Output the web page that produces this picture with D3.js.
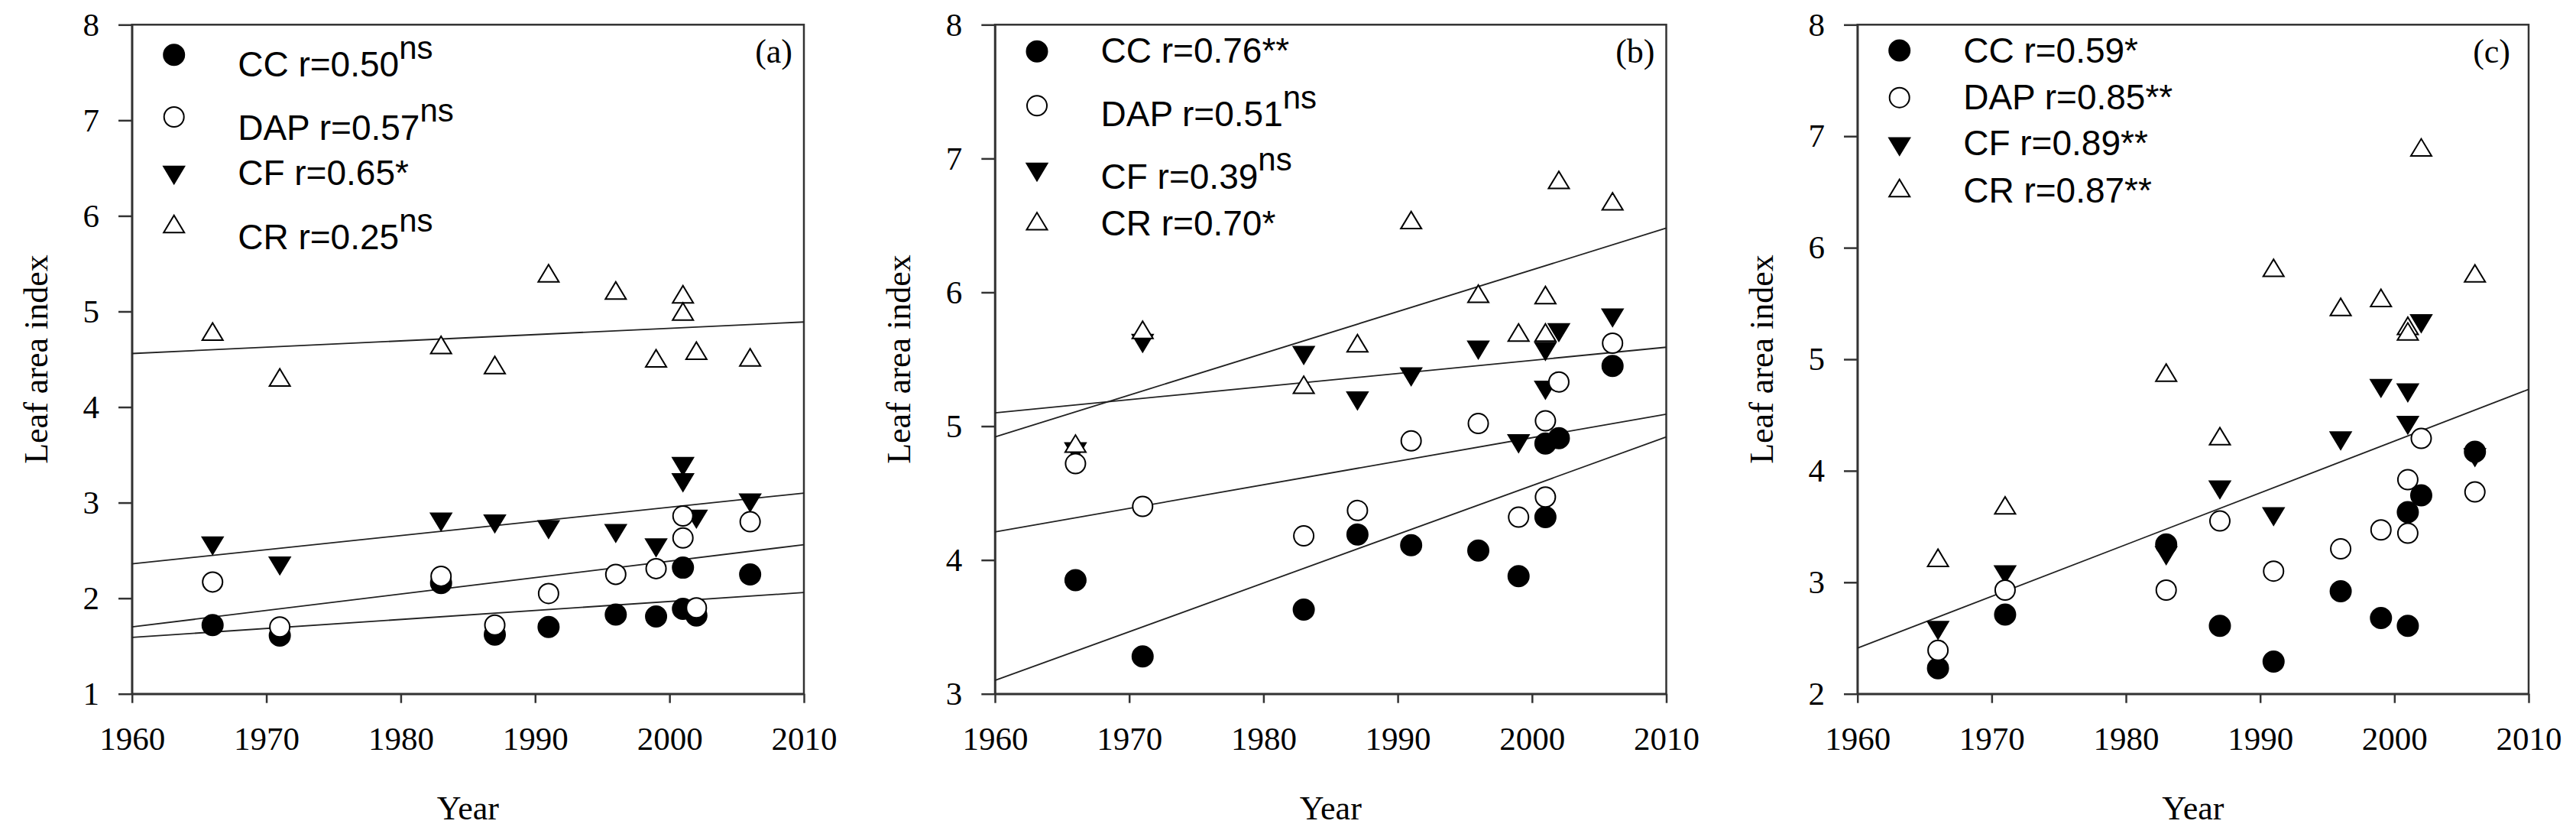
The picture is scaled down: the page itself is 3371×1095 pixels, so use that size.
<!DOCTYPE html>
<html><head><meta charset="utf-8">
<script src="https://cdn.jsdelivr.net/npm/d3@7"></script>
<style>
body{margin:0;background:#fff}
.tick text{font-family:"Liberation Serif","Times New Roman",serif;font-size:43px;fill:#000}
</style>
</head><body>
<svg id="chart" width="3371" height="1095"></svg>
<script>
// ---------- data ----------
const years = [1966, 1971, 1983, 1987, 1991, 1996, 1999, 2001, 2001, 2002, 2006];
const seriesNames = ["CC", "DAP", "CF", "CR"];
const xTickValues = [1960, 1970, 1980, 1990, 2000, 2010];

// panel (a)
const laiA_CC  = [1.72, 1.61, 2.16, 1.62, 1.70, 1.83, 1.81, 2.32, 1.89, 1.82, 2.25];
const laiA_DAP = [2.17, 1.70, 2.23, 1.72, 2.05, 2.25, 2.31, 2.86, 2.63, 1.90, 2.80];
const laiA_CF  = [2.55, 2.34, 2.80, 2.78, 2.72, 2.68, 2.53, 3.38, 3.21, 2.83, 3.00];
const laiA_CR  = [4.79, 4.31, 4.65, 4.44, 5.40, 5.22, 4.51, 5.18, 5.00, 4.59, 4.52];
// fitted lines: value at 1960 and at 2010
const fitA_CC  = [1.59, 2.06];
const fitA_DAP = [1.70, 2.56];
const fitA_CF  = [2.36, 3.10];
const fitA_CR  = [4.56, 4.89];
const legendA  = [["CC r=0.50", "ns"], ["DAP r=0.57", "ns"], ["CF r=0.65*", ""], ["CR r=0.25", "ns"]];

// panel (b)
const laiB_CC  = [3.85, 3.28, 3.63, 4.19, 4.11, 4.07, 3.88, 4.87, 4.32, 4.91, 5.45];
const laiB_DAP = [4.72, 4.40, 4.18, 4.37, 4.89, 5.02, 4.32, 5.04, 4.47, 5.33, 5.62];
const laiB_CF  = [4.81, 5.62, 5.53, 5.19, 5.37, 5.57, 4.87, 5.56, 5.27, 5.70, 5.81];
const laiB_CR  = [4.87, 5.72, 5.31, 5.62, 6.54, 5.99, 5.70, 5.98, 5.70, 6.84, 6.68];
const fitB_CC  = [3.10, 4.92];
const fitB_DAP = [4.21, 5.09];
const fitB_CF  = [5.10, 5.59];
const fitB_CR  = [4.92, 6.48];
const legendB  = [["CC r=0.76**", ""], ["DAP r=0.51", "ns"], ["CF r=0.39", "ns"], ["CR r=0.70*", ""]];

// panel (c)
const laiC_CC  = [2.23, 2.71, 3.34, 2.61, 2.29, 2.92, 2.68, 3.63, 2.61, 3.78, 4.17];
const laiC_DAP = [2.39, 2.93, 2.93, 3.55, 3.10, 3.30, 3.47, 3.92, 3.44, 4.29, 3.81];
const laiC_CF  = [2.57, 3.07, 3.24, 3.83, 3.59, 4.27, 4.74, 4.70, 4.41, 5.32, 4.12];
const laiC_CR  = [3.22, 3.69, 4.88, 4.31, 5.82, 5.47, 5.55, 5.30, 5.25, 6.90, 5.77];
const fitC_all = [2.41, 4.73];
const legendC  = [["CC r=0.59*", ""], ["DAP r=0.85**", ""], ["CF r=0.89**", ""], ["CR r=0.87**", ""]];

// ---------- layout ----------
const TOP = 32.3, BOTTOM = 907.7;
const panels = [
  { tag: "(a)", left: 172.7, right: 1052, yDomain: [1, 8], tagInset: 15,
    series: { CC: laiA_CC, DAP: laiA_DAP, CF: laiA_CF, CR: laiA_CR },
    fits: [fitA_CC, fitA_DAP, fitA_CF, fitA_CR], legend: legendA,
    legSymY: [71.7, 153, 229, 293], legBaseY: [100, 182.7, 242.3, 326] },
  { tag: "(b)", left: 1302, right: 2180.5, yDomain: [3, 8], tagInset: 15,
    series: { CC: laiB_CC, DAP: laiB_DAP, CF: laiB_CF, CR: laiB_CR },
    fits: [fitB_CC, fitB_DAP, fitB_CF, fitB_CR], legend: legendB,
    legSymY: [67.3, 138.3, 225, 289.3], legBaseY: [81.7, 165, 246.7, 308.3] },
  { tag: "(c)", left: 2430.7, right: 3309, yDomain: [2, 8], tagInset: 24,
    series: { CC: laiC_CC, DAP: laiC_DAP, CF: laiC_CF, CR: laiC_CR },
    fits: [fitC_all], legend: legendC,
    legSymY: [66, 127.7, 191.7, 246], legBaseY: [81.7, 142.7, 202.7, 265] }
];

const markerStyle = {
  CC:  { shape: "circle", fill: "#000", stroke: "#000" },
  DAP: { shape: "circle", fill: "#fff", stroke: "#000" },
  CF:  { shape: "down",   fill: "#000", stroke: "#000" },
  CR:  { shape: "up",     fill: "#fff", stroke: "#000" }
};
const drawOrder = ["CC", "CF", "DAP", "CR"];

const svg = d3.select("#chart");
const serif = '"Liberation Serif","Times New Roman",serif';
const sans = '"Liberation Sans",Arial,sans-serif';

function drawMarker(g, name, cx, cy) {
  const st = markerStyle[name];
  if (st.shape === "circle") {
    g.append("circle").attr("cx", cx).attr("cy", cy)
      .attr("r", st.fill === "#000" ? 13.5 : 13)
      .attr("fill", st.fill).attr("stroke", st.stroke).attr("stroke-width", 2);
  } else {
    const hw = 13.5, hh = 11.2;
    const d = st.shape === "up"
      ? `M${-hw},${hh}L${hw},${hh}L0,${-hh}Z`
      : `M${-hw},${-hh}L${hw},${-hh}L0,${hh}Z`;
    g.append("path").attr("d", d).attr("transform", `translate(${cx},${cy})`)
      .attr("fill", st.fill).attr("stroke", st.stroke).attr("stroke-width", 2)
      .attr("stroke-linejoin", "miter");
  }
}

panels.forEach(p => {
  const x = d3.scaleLinear().domain([1960, 2010]).range([p.left, p.right]);
  const y = d3.scaleLinear().domain(p.yDomain).range([BOTTOM, TOP]);
  const g = svg.append("g");

  // frame
  g.append("rect").attr("x", p.left).attr("y", TOP)
    .attr("width", p.right - p.left).attr("height", BOTTOM - TOP)
    .attr("fill", "none").attr("stroke", "#333").attr("stroke-width", 2.5);

  // axes
  const yTicks = d3.range(p.yDomain[0], p.yDomain[1] + 1);
  const ya = g.append("g").attr("transform", `translate(${p.left},0)`)
    .call(d3.axisLeft(y).tickValues(yTicks).tickFormat(d3.format("d"))
      .tickSize(17.7).tickSizeOuter(0).tickPadding(25));
  const xa = g.append("g").attr("transform", `translate(0,${BOTTOM})`)
    .call(d3.axisBottom(x).tickValues(xTickValues).tickFormat(d3.format("d"))
      .tickSize(12).tickSizeOuter(0).tickPadding(31));
  [ya, xa].forEach(a => {
    a.select(".domain").attr("stroke", "#333").attr("stroke-width", 2.5);
    a.selectAll(".tick line").attr("stroke", "#333").attr("stroke-width", 2.5);
  });

  // axis titles
  g.append("text").attr("transform", `translate(${p.left - 111},${(TOP + BOTTOM) / 2}) rotate(-90)`)
    .attr("text-anchor", "middle").attr("font-family", serif).attr("font-size", 44)
    .text("Leaf area index");
  g.append("text").attr("x", (p.left + p.right) / 2).attr("y", 1072)
    .attr("text-anchor", "middle").attr("font-family", serif).attr("font-size", 44)
    .text("Year");

  // panel tag
  g.append("text").attr("x", p.right - p.tagInset).attr("y", 82)
    .attr("text-anchor", "end").attr("font-family", serif).attr("font-size", 44)
    .text(p.tag);

  // regression lines
  const line = d3.line().x(d => x(d[0])).y(d => y(d[1]));
  p.fits.forEach(f => {
    g.append("path").datum([[1960, f[0]], [2010, f[1]]]).attr("d", line)
      .attr("fill", "none").attr("stroke", "#222").attr("stroke-width", 1.8);
  });

  // points
  drawOrder.forEach(name => {
    const vals = p.series[name];
    vals.forEach((v, i) => drawMarker(g, name, x(years[i]), y(v)));
  });

  // legend
  seriesNames.forEach((name, i) => {
    drawMarker(g, name, p.left + 55, p.legSymY[i]);
    const t = g.append("text").attr("x", p.left + 138.5).attr("y", p.legBaseY[i])
      .attr("font-family", sans).attr("font-size", 46).attr("fill", "#000");
    t.append("tspan").text(p.legend[i][0]);
    if (p.legend[i][1]) {
      t.append("tspan").attr("dy", -23.3).attr("font-size", 42).text(p.legend[i][1]);
    }
  });
});
</script>
</body></html>
